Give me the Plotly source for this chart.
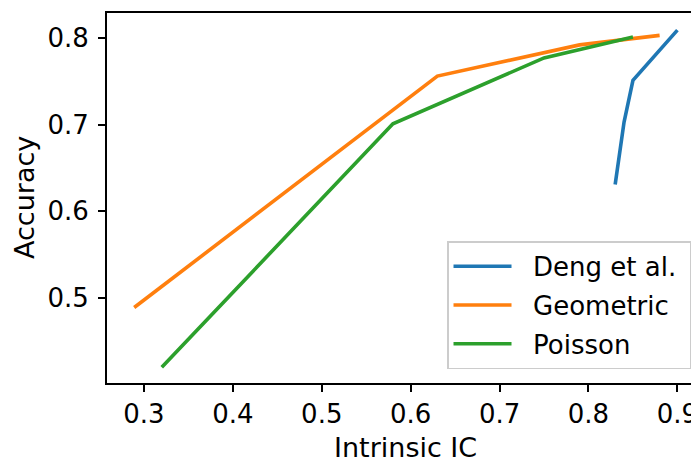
import plotly.graph_objects as go

deng_x = [0.83, 0.84, 0.85, 0.90]
deng_y = [0.631, 0.703, 0.751, 0.809]
geo_x = [0.289, 0.63, 0.79, 0.88]
geo_y = [0.489, 0.756, 0.792, 0.803]
poi_x = [0.32, 0.58, 0.75, 0.85]
poi_y = [0.42, 0.701, 0.777, 0.801]

series = [
    ("Deng et al.", deng_x, deng_y, "#1f77b4"),
    ("Geometric", geo_x, geo_y, "#ff7f0e"),
    ("Poisson", poi_x, poi_y, "#2ca02c"),
]

x_ticks = [0.3, 0.4, 0.5, 0.6, 0.7, 0.8, 0.9]
y_ticks = [0.5, 0.6, 0.7, 0.8]
x_title = "Intrinsic IC"
y_title = "Accuracy"

FONT = "DejaVu Sans"
FS = 26
PAD = "\u00a0\u00a0"
TAIL = "\u00a0"

fig = go.Figure()
for name, xs, ys, col in series:
    fig.add_trace(go.Scatter(x=xs, y=ys, mode="lines", name=PAD + name + TAIL,
                             legendgroup=name,
                             line=dict(color=col, width=3.6)))

# page body has an 8px margin, so the figure is sized/offset to compensate
fig.update_layout(
    width=691, height=451,
    margin=dict(l=99, r=0, t=5, b=76, autoexpand=False),
    paper_bgcolor="white", plot_bgcolor="white",
    font=dict(family=FONT, size=FS, color="black"),
    showlegend=True,
    legend=dict(x=0.9865, y=0.037, xanchor="right", yanchor="bottom",
                bgcolor="rgba(255,255,255,0.8)", bordercolor="#cccccc",
                borderwidth=1.5, font=dict(family=FONT, size=FS),
                tracegroupgap=2, itemwidth=58),
    annotations=[
        dict(text=x_title, xref="paper", yref="paper", x=0.505, y=0,
             yshift=-64, xanchor="center", yanchor="middle", showarrow=False,
             height=22, font=dict(family=FONT, size=27)),
        dict(text=y_title, xref="paper", yref="paper", x=0, y=0.5,
             xshift=-83, textangle=-90, xanchor="center", yanchor="middle",
             showarrow=False, font=dict(family=FONT, size=27)),
    ],
)
fig.update_xaxes(range=[0.2584, 0.9243], tickvals=x_ticks,
                 ticktext=[f"{v:.1f}" for v in x_ticks],
                 showgrid=False, zeroline=False, showline=True,
                 linecolor="black", linewidth=1.8, mirror=True,
                 ticks="outside", ticklen=7, tickwidth=1.8, tickcolor="black",
                 automargin=False)
fig.update_yaxes(range=[0.4019, 0.8288], tickvals=y_ticks,
                 ticktext=[f"{v:.1f}" for v in y_ticks],
                 showgrid=False, zeroline=False, showline=True,
                 linecolor="black", linewidth=1.8,
                 ticks="outside", ticklen=7, tickwidth=1.8, tickcolor="black",
                 ticklabelstandoff=4, automargin=False)

fig.write_html("out.html")
